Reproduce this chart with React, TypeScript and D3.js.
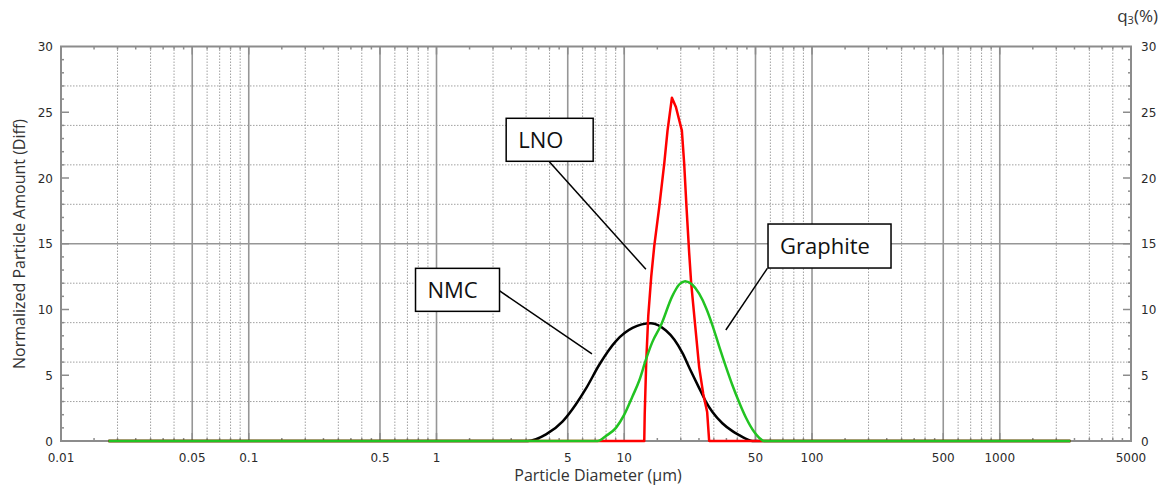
import React, { useEffect, useRef } from "react";
import * as d3 from "d3";

// tick labels
const xTickLabels = [0.01, 0.05, 0.1, 0.5, 1, 5, 10, 50, 100, 500, 1000, 5000];
const yTickLabels = [0, 5, 10, 15, 20, 25, 30];

// NMC (black)
const nmcDiameter = [0.0179, 3.06, 3.83, 4.7, 5.53, 6.26, 7.36, 9.03, 11.07, 13.87, 16.67, 18.5, 20.4, 22.5, 25.1, 27.2, 29.5, 33.3, 37.7, 40.9, 44.0, 48.1, 2377];
const nmcAmount = [0, 0, 0.5, 1.5, 2.8, 4.0, 5.8, 7.6, 8.6, 8.95, 8.4, 7.7, 6.7, 5.4, 4.0, 3.0, 2.2, 1.35, 0.75, 0.45, 0.2, 0, 0];

// LNO (red)
const lnoDiameter = [0.0179, 12.78, 12.85, 13.09, 13.42, 13.92, 14.44, 15.36, 16.33, 17.0, 17.94, 18.84, 20.27, 20.85, 21.45, 22.17, 22.72, 23.86, 25.06, 26.33, 27.64, 28.33, 2377];
const lnoAmount = [0, 0, 2.0, 6.0, 9.5, 12.5, 14.8, 17.8, 21.1, 23.6, 26.1, 25.4, 23.6, 21.1, 17.8, 14.3, 12.0, 8.8, 5.6, 3.6, 2.2, 0, 0];

// Graphite (green)
const graphiteDiameter = [0.0179, 7.21, 8.02, 9.03, 10.0, 11.07, 12.02, 13.05, 14.09, 15.68, 18.0, 19.61, 21.11, 23.0, 25.06, 27.31, 29.49, 32.02, 34.88, 37.55, 40.91, 44.57, 49.14, 52.25, 55.54, 2377];
const graphiteAmount = [0, 0, 0.4, 1.0, 2.0, 3.4, 4.6, 6.2, 7.5, 8.8, 11.0, 11.9, 12.15, 11.9, 11.2, 10.1, 8.8, 7.2, 5.6, 4.3, 2.95, 1.75, 0.7, 0.25, 0, 0];

// annotation boxes (data coords of box top-left, leader start, leader end)
const annotations = [
  { label: "LNO", bx: 2.35, by: 24.54, w: 87, h: 43, sx: 3.99, sy: 21.24, tx: 13.04, ty: 13.06 },
  { label: "NMC", bx: 0.773, by: 13.13, w: 84, h: 43, sx: 2.16, sy: 11.43, tx: 6.73, ty: 6.62 },
  { label: "Graphite", bx: 58.3, by: 16.5, w: 123, h: 44, sx: 57.8, sy: 13.13, tx: 34.75, ty: 8.44 },
];

export default function App() {
  const ref = useRef<SVGSVGElement>(null);

  useEffect(() => {
    document.body.style.margin = "0";
    const svg = d3.select(ref.current);
    svg.selectAll("*").remove();

    const left = 61, right = 1131, top = 46.5, bottom = 441;
    const x = d3.scaleLog().domain([0.01, 5000]).range([left, right]);
    const y = d3.scaleLinear().domain([0, 30]).range([bottom, top]);

    const g = svg.append("g");

    // vertical grid
    const solidX: number[] = [];
    const dottedX: number[] = [];
    const minorX: number[] = [];
    for (let e = -2; e <= 3; e++) {
      const p = Math.pow(10, e);
      [1, 1.5, 2, 2.5, 3, 3.5, 4, 4.5, 5, 6, 7, 8, 9].forEach(k => {
        const v = +(k * p).toPrecision(6);
        if (v <= 0.01 || v >= 5000) return;
        if (k === 1 || k === 5) solidX.push(v);
        else if (Number.isInteger(k)) dottedX.push(v);
        minorX.push(v);
      });
    }

    g.selectAll(".vdot").data(dottedX).join("line")
      .attr("x1", d => x(d)).attr("x2", d => x(d)).attr("y1", top).attr("y2", bottom)
      .attr("stroke", "#a0a0a0").attr("stroke-width", 1).attr("stroke-dasharray", "1.5,1.5");

    const hDotted = [3, 6, 9, 12, 18, 21, 24, 27];
    g.selectAll(".hdot").data(hDotted).join("line")
      .attr("x1", left).attr("x2", right).attr("y1", d => y(d)).attr("y2", d => y(d))
      .attr("stroke", "#a0a0a0").attr("stroke-width", 1).attr("stroke-dasharray", "1.5,1.5");

    g.selectAll(".vsolid").data(solidX).join("line")
      .attr("x1", d => x(d)).attr("x2", d => x(d)).attr("y1", top).attr("y2", bottom)
      .attr("stroke", "#969696").attr("stroke-width", 1.6);

    g.append("line").attr("x1", left).attr("x2", right).attr("y1", y(15)).attr("y2", y(15))
      .attr("stroke", "#969696").attr("stroke-width", 1.6);

    // inner ticks
    const ticksG = g.append("g").attr("stroke", "#8c8c8c").attr("stroke-width", 1.5);
    minorX.forEach(v => {
      const len = solidX.includes(v) ? 8 : 3;
      ticksG.append("line").attr("x1", x(v)).attr("x2", x(v)).attr("y1", bottom).attr("y2", bottom - len);
      ticksG.append("line").attr("x1", x(v)).attr("x2", x(v)).attr("y1", top).attr("y2", top + len);
    });
    d3.range(1, 30).forEach(v => {
      const len = v % 5 === 0 ? 8 : 3;
      ticksG.append("line").attr("x1", left).attr("x2", left + len).attr("y1", y(v)).attr("y2", y(v));
      ticksG.append("line").attr("x1", right).attr("x2", right - len).attr("y1", y(v)).attr("y2", y(v));
    });

    // frame
    g.append("rect").attr("x", left).attr("y", top).attr("width", right - left).attr("height", bottom - top)
      .attr("fill", "none").attr("stroke", "#8c8c8c").attr("stroke-width", 2);

    // curves
    const series = [
      { d: nmcDiameter, a: nmcAmount, color: "#000000", curve: d3.curveMonotoneX },
      { d: lnoDiameter, a: lnoAmount, color: "#ff0000", curve: d3.curveLinear },
      { d: graphiteDiameter, a: graphiteAmount, color: "#22c322", curve: d3.curveMonotoneX },
    ];
    series.forEach(s => {
      const pts: [number, number][] = s.d.map((v, i) => [v, s.a[i]]);
      const line = d3.line<[number, number]>().x(p => x(p[0])).y(p => y(p[1])).curve(s.curve);
      g.append("path").attr("d", line(pts)).attr("fill", "none")
        .attr("stroke", s.color).attr("stroke-width", 2.5).attr("stroke-linejoin", "round");
    });

    // tick labels
    const tickFont = "'DejaVu Sans', Verdana, sans-serif";
    g.selectAll(".xl").data(xTickLabels).join("text")
      .attr("x", d => x(d)).attr("y", 461.5).attr("text-anchor", "middle")
      .attr("font-family", tickFont).attr("font-size", 12).attr("fill", "#2a2a2a")
      .text(d => String(d));
    g.selectAll(".yl").data(yTickLabels).join("text")
      .attr("x", 53).attr("y", d => y(d) + 4.5).attr("text-anchor", "end")
      .attr("font-family", tickFont).attr("font-size", 12).attr("fill", "#2a2a2a")
      .text(d => String(d));
    g.selectAll(".yr").data(yTickLabels).join("text")
      .attr("x", 1141).attr("y", d => y(d) + 4.5).attr("text-anchor", "start")
      .attr("font-family", tickFont).attr("font-size", 12).attr("fill", "#2a2a2a")
      .text(d => String(d));

    // axis titles
    const titleFont = "'Open Sans', sans-serif";
    g.append("text").attr("x", 598).attr("y", 481).attr("text-anchor", "middle")
      .attr("font-family", titleFont).attr("font-size", 16).attr("fill", "#333")
      .text("Particle Diameter (µm)");
    g.append("text").attr("transform", "translate(25,244) rotate(-90)").attr("text-anchor", "middle")
      .attr("font-family", titleFont).attr("font-size", 16).attr("fill", "#333")
      .text("Normalized Particle Amount (Diff)");
    const q = g.append("text").attr("x", 1158).attr("y", 22).attr("text-anchor", "end")
      .attr("font-family", titleFont).attr("font-size", 17).attr("fill", "#333");
    q.append("tspan").text("q");
    q.append("tspan").attr("font-size", 11).attr("dy", 2).text("3");
    q.append("tspan").attr("dy", -2).text("(%)");

    // annotations
    annotations.forEach(a => {
      g.append("line").attr("x1", x(a.sx)).attr("y1", y(a.sy)).attr("x2", x(a.tx)).attr("y2", y(a.ty))
        .attr("stroke", "#000").attr("stroke-width", 1.5);
      g.append("rect").attr("x", x(a.bx)).attr("y", y(a.by)).attr("width", a.w).attr("height", a.h)
        .attr("fill", "#fff").attr("stroke", "#000").attr("stroke-width", 1.5);
      g.append("text").attr("x", x(a.bx) + 12).attr("y", y(a.by) + a.h / 2 + 8)
        .attr("font-family", titleFont).attr("font-size", 22).attr("fill", "#111")
        .text(a.label);
    });
  }, []);

  return <svg ref={ref} width={1166} height={492} style={{ display: "block", background: "#fff" }} />;
}
